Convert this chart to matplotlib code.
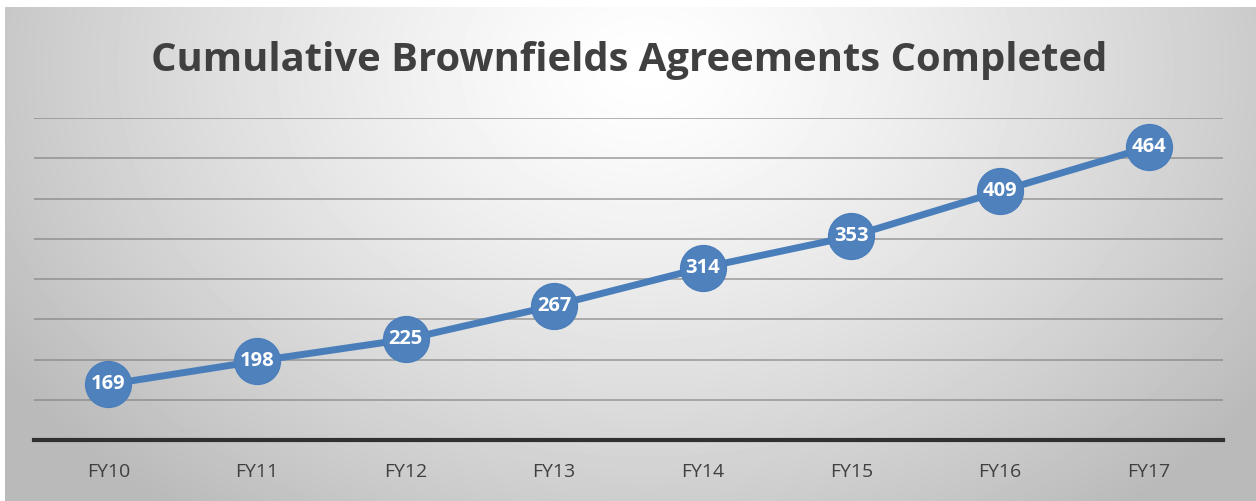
import numpy as np
import matplotlib.pyplot as plt

years = ["FY10", "FY11", "FY12", "FY13", "FY14", "FY15", "FY16", "FY17"]
agreements = [169, 198, 225, 267, 314, 353, 409, 464]

W, H = 1256, 501
fig = plt.figure(figsize=(W / 100, H / 100), dpi=100)
fig.patch.set_facecolor("white")

# radial grey gradient behind the chart
bg = fig.add_axes([5 / W, 0, 1 - 5 / W, 1 - 7 / H])
bg.set_axis_off()
yy, xx = np.mgrid[0:494, 0:1251]
d = np.sqrt(((xx - 640) / 760.0) ** 2 + ((yy - 60) / 560.0) ** 2)
shade = 1.0 - 0.27 * np.clip(d, 0, 1) ** 1.3
bg.imshow(shade, cmap="gray", vmin=0, vmax=1, aspect="auto", interpolation="bilinear")

ax = fig.add_axes([34 / W, 61 / H, 1189 / W, 322 / H])
ax.patch.set_alpha(0)
x = np.arange(len(years))
ax.plot(x, agreements, color="#4a7ebb", lw=5, marker="o", ms=33,
        mec="#4a7ebb", mfc="#4f81bd", zorder=3, solid_capstyle="round")
for xi, v in zip(x, agreements):
    ax.text(xi, v, str(v), ha="center", va="center", color="white",
            fontsize=14.5, fontweight="bold", family="Open Sans", zorder=4)

ax.set_xlim(-0.5, len(years) - 0.5)
ax.set_ylim(100, 500)
ax.set_yticks(np.arange(150, 501, 50))
ax.yaxis.grid(True, color="#808080", lw=1.3, alpha=0.65)
ax.set_axisbelow(True)
ax.tick_params(axis="y", left=False, labelleft=False)
ax.tick_params(axis="x", bottom=False, pad=13, labelsize=14, labelcolor="#404040")
ax.set_xticks(x)
ax.set_xticklabels(years, family="Open Sans")
for s in ["top", "left", "right"]:
    ax.spines[s].set_visible(False)
ax.spines["bottom"].set_color("#303030")
ax.spines["bottom"].set_linewidth(3)

fig.text(629 / W, 1 - 60 / H, "Cumulative Brownfields Agreements Completed",
         ha="center", va="center", fontsize=28.8, fontweight="bold",
         color="#404040", family="Open Sans")

fig.savefig("out.png", dpi=100)
